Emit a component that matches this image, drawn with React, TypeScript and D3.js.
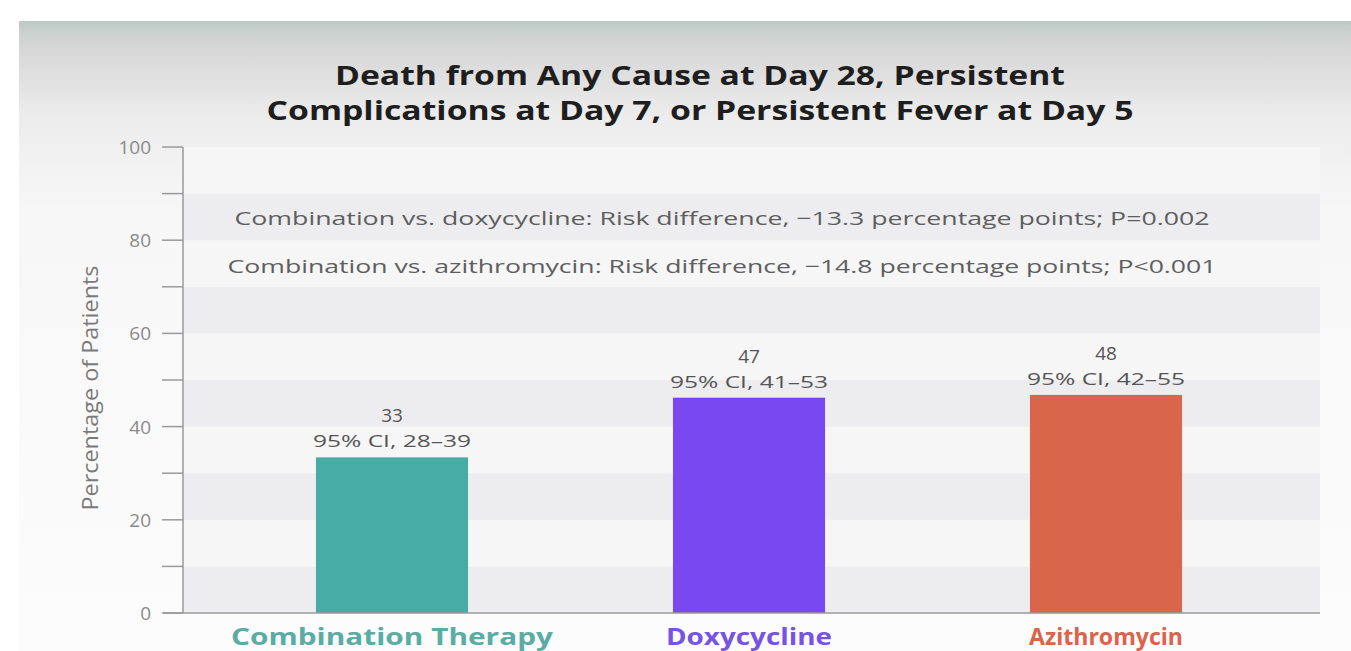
import * as d3 from "d3";

// chart values
const categories = ["Combination Therapy", "Doxycycline", "Azithromycin"];
const barValues = [33.4, 46.2, 46.8];
const valueLabels = ["33", "47", "48"];
const ciLabels = ["95% CI, 28–39", "95% CI, 41–53", "95% CI, 42–55"];
const barColors = ["#47aca5", "#7948f0", "#d9664b"];
const labelColors = ["#5aaca4", "#7753e2", "#d8644c"];
const catLabelWidths = [322, 166, 154];
const majorTicks = [0, 20, 40, 60, 80, 100];
const minorTicks = [10, 30, 50, 70, 90];
const bandStarts = [0, 10, 20, 30, 40, 50, 60, 70, 80, 90];
const titleLines = [
  "Death from Any Cause at Day 28, Persistent",
  "Complications at Day 7, or Persistent Fever at Day 5",
];
const titleWidths = [730, 867];
const notes = [
  "Combination vs. doxycycline: Risk difference, −13.3 percentage points; P=0.002",
  "Combination vs. azithromycin: Risk difference, −14.8 percentage points; P<0.001",
];
const noteWidths = [975, 989];

const W = 1351;
const H = 651;
const font = "'Open Sans', 'Noto Sans', sans-serif";

export default function App() {
  const left = 183;
  const right = 1320;
  const y = d3.scaleLinear().domain([0, 100]).range([613, 147]);
  const x = d3
    .scaleBand<string>()
    .domain(categories)
    .range([213.5, 1284.5])
    .paddingInner(0.574)
    .paddingOuter(0.287);
  const cx = (c: string) => (x(c) as number) + x.bandwidth() / 2;

  return (
    <svg width={W} height={H} style={{ position: "absolute", left: 0, top: 0, background: "#fff" }}>
      <defs>
        <linearGradient id="panel" x1="0" y1="0" x2="0" y2="1">
          <stop offset="0" stopColor="#bcc8c4" />
          <stop offset="0.02" stopColor="#ccd2d0" />
          <stop offset="0.05" stopColor="#d9d8d9" />
          <stop offset="0.15" stopColor="#ececec" />
          <stop offset="0.3" stopColor="#f7f7f7" />
          <stop offset="1" stopColor="#fcfcfc" />
        </linearGradient>
      </defs>

      <rect x={19} y={21} width={W - 19} height={H - 21} fill="url(#panel)" />

      {/* alternating horizontal bands */}
      {bandStarts.map((b, i) => (
        <rect
          key={b}
          x={left}
          y={y(b + 10)}
          width={right - left}
          height={y(b) - y(b + 10)}
          fill={i % 2 === 0 ? "#ededef" : "#f6f6f7"}
        />
      ))}

      {titleLines.map((t, i) => (
        <text
          key={t}
          x={700}
          y={74 + i * 35}
          textAnchor="middle"
          dominantBaseline="central"
          fontFamily={font}
          fontWeight={700}
          fontSize={27}
          fill="#1e1e1e"
          textLength={titleWidths[i]}
          lengthAdjust="spacingAndGlyphs"
        >
          {t}
        </text>
      ))}

      {notes.map((t, i) => (
        <text
          key={t}
          x={722}
          y={218 + i * 48}
          textAnchor="middle"
          dominantBaseline="central"
          fontFamily={font}
          fontSize={19}
          fill="#5e5e5e"
          textLength={noteWidths[i]}
          lengthAdjust="spacingAndGlyphs"
        >
          {t}
        </text>
      ))}

      {/* y axis */}
      <line x1={left} x2={left} y1={y(100)} y2={y(0)} stroke="#9a9a9a" strokeWidth={1.5} />
      {majorTicks.concat(minorTicks).map((t) => (
        <line key={t} x1={162} x2={left} y1={y(t)} y2={y(t)} stroke="#9a9a9a" strokeWidth={1.5} />
      ))}
      {majorTicks.map((t) => (
        <text
          key={t}
          x={151}
          y={y(t)}
          textAnchor="end"
          dominantBaseline="central"
          fontFamily={font}
          fontSize={19}
          fill="#8a8a8a"
        >
          {t}
        </text>
      ))}
      <text
        transform={`translate(90,${(y(0) + y(100)) / 2 + 8}) rotate(-90)`}
        textAnchor="middle"
        dominantBaseline="central"
        fontFamily={font}
        fontSize={21}
        fill="#7a7a7a"
        textLength={245}
        lengthAdjust="spacingAndGlyphs"
      >
        Percentage of Patients
      </text>

      {/* bars */}
      {categories.map((c, i) => (
        <g key={c}>
          <rect
            x={x(c)}
            y={y(barValues[i])}
            width={x.bandwidth()}
            height={y(0) - y(barValues[i])}
            fill={barColors[i]}
          />
          <text
            x={cx(c)}
            y={y(barValues[i]) - 42}
            textAnchor="middle"
            dominantBaseline="central"
            fontFamily={font}
            fontSize={19}
            fill="#555"
          >
            {valueLabels[i]}
          </text>
          <text
            x={cx(c)}
            y={y(barValues[i]) - 16}
            textAnchor="middle"
            dominantBaseline="central"
            fontFamily={font}
            fontSize={16}
            fill="#555"
            textLength={158}
            lengthAdjust="spacingAndGlyphs"
          >
            {ciLabels[i]}
          </text>
          <text
            x={cx(c)}
            y={636}
            textAnchor="middle"
            dominantBaseline="central"
            fontFamily={font}
            fontWeight={700}
            fontSize={23}
            fill={labelColors[i]}
            textLength={catLabelWidths[i]}
            lengthAdjust="spacingAndGlyphs"
          >
            {c}
          </text>
        </g>
      ))}

      {/* x axis */}
      <line x1={left - 20} x2={right} y1={y(0)} y2={y(0)} stroke="#9a9a9a" strokeWidth={1.5} />
    </svg>
  );
}
